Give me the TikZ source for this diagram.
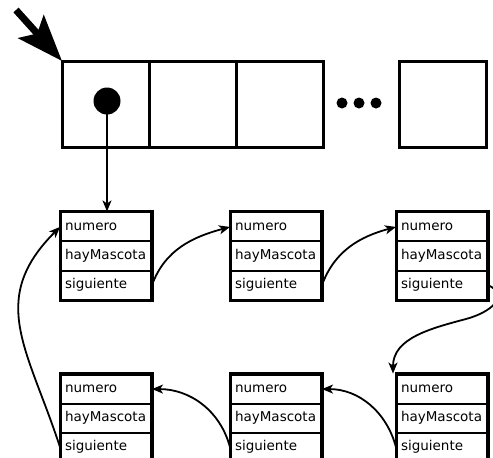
\documentclass[tikz,border=0pt]{standalone}
\usepackage{fontspec}
\setmainfont{DejaVu Sans}
\usepackage{tikz}
\usetikzlibrary{shapes.multipart, arrows.meta, positioning}
\tikzstyle{celda} = [rectangle, draw=black, line width=3pt, minimum width=87pt, minimum height=86pt, outer sep=0pt]
\tikzstyle{registro} = [rectangle split, rectangle split parts=3, draw=black, line width=2pt, text width=82pt, inner xsep=4pt, inner ysep=7pt, text height=10pt, text depth=3pt, align=left, font=\fontsize{13.5}{15}\selectfont]
\tikzstyle{borde} = [line width=3pt]
\tikzstyle{arrow} = [line width=1.8pt, -{Stealth[length=11pt, width=9pt, inset=3pt]}]
\tikzstyle{inicio} = [line width=7pt, -{Stealth[length=46pt, width=34pt, inset=9pt]}]

\begin{document}
\begin{tikzpicture}[x=1pt, y=-1pt]
\useasboundingbox (0,0) rectangle (493,458);

\node (c1) [celda] at (105.5,104) {};
\node (c2) [celda, right=0pt of c1] {};
\node (c3) [celda, right=0pt of c2] {};
\node (c4) [celda] at (443,104) {};
\fill (342,103) circle (5.5pt) (359,103) circle (5.5pt) (376,103) circle (5.5pt);
\node (punto) [circle, fill=black, minimum size=27pt, inner sep=0pt] at (107,101) {};
\coordinate (flecha) at (16,10);

\node (nodo1) [registro] at (106,256) {numero \nodepart{two} hayMascota \nodepart{three} siguiente};
\node (nodo2) [registro, right=78pt of nodo1] {numero \nodepart{two} hayMascota \nodepart{three} siguiente};
\node (nodo3) [registro, right=74pt of nodo2] {numero \nodepart{two} hayMascota \nodepart{three} siguiente};
\node (nodo4) [registro, below=73pt of nodo3] {numero \nodepart{two} hayMascota \nodepart{three} siguiente};
\node (nodo5) [registro, below=73pt of nodo2] {numero \nodepart{two} hayMascota \nodepart{three} siguiente};
\node (nodo6) [registro, below=73pt of nodo1] {numero \nodepart{two} hayMascota \nodepart{three} siguiente};
\draw [borde] (nodo1.north west) rectangle (nodo1.south east);
\draw [borde] (nodo2.north west) rectangle (nodo2.south east);
\draw [borde] (nodo3.north west) rectangle (nodo3.south east);
\draw [borde] (nodo4.north west) rectangle (nodo4.south east);
\draw [borde] (nodo5.north west) rectangle (nodo5.south east);
\draw [borde] (nodo6.north west) rectangle (nodo6.south east);

\draw [inicio] (flecha) -- (c1.north west);
\draw [arrow, line width=1.2pt] (punto.center) -- (punto |- nodo1.north);

\draw [arrow] (nodo1.three east) to [out=70, in=195] (nodo2.text west);
\draw [arrow] (nodo2.three east) to [out=70, in=195] (nodo3.text west);
\draw [arrow] (nodo3.three east) to [out=-25, in=15, looseness=1.6] (466,319) to [out=195, in=90] ([xshift=-3pt]nodo4.north west);
\draw [arrow] (nodo4.three west) to [out=105, in=0] (nodo5.text east);
\draw [arrow] (nodo5.three west) to [out=105, in=0] (nodo6.text east);
\draw [arrow] (nodo6.three west) to [out=108, in=225, looseness=1.2] (nodo1.text west);

\end{tikzpicture}
\end{document}
